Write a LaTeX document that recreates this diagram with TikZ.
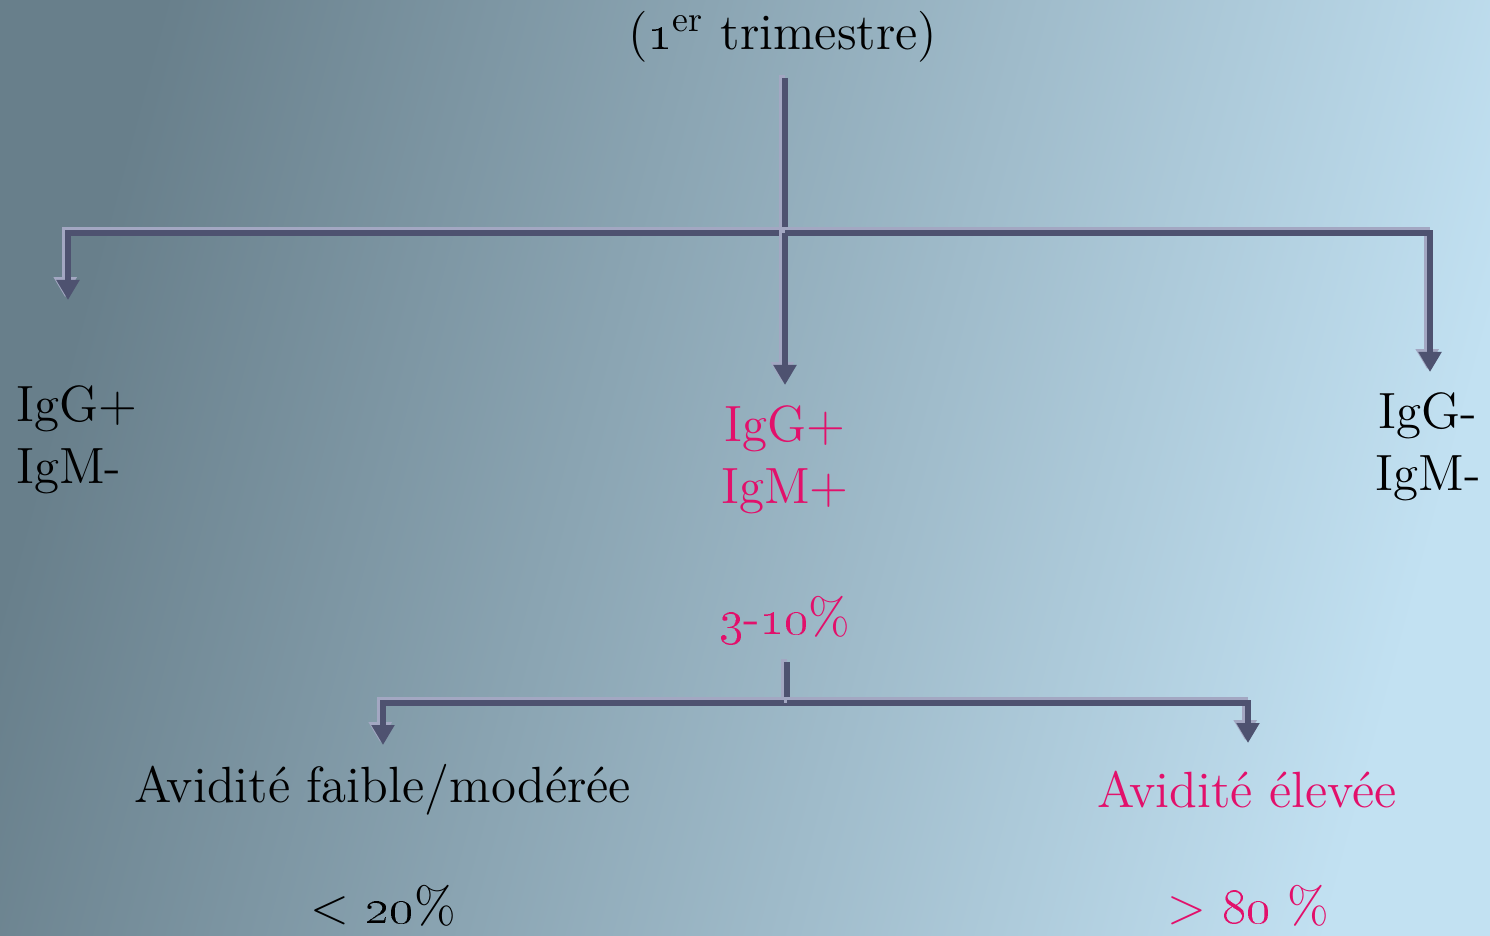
\documentclass[tikz,border=0pt]{standalone}
\usepackage{xcolor}
\definecolor{bgDark}{HTML}{687F8B}
\definecolor{bgLight}{HTML}{C2E1F2}
\definecolor{lineDark}{HTML}{4E5270}
\definecolor{lineLight}{HTML}{A3A7C2}
\definecolor{toxoPink}{HTML}{E2106B}
\usepackage{tikz}
\usetikzlibrary{arrows.meta, positioning}

\begin{document}
\begin{tikzpicture}[
		label/.style={
			inner sep=1pt,
			align=center,
			font=\fontsize{14.5}{17.5}\selectfont
		},
		result/.style={label, text=toxoPink},
		link/.style={
			draw=lineDark,
			line width=1.8pt,
			preaction={draw=lineLight, line width=1.8pt,
				transform canvas={shift={(-0.8pt,0.8pt)}}}
		},
		arrow/.style={link, -{Triangle[width=0.22cm, length=0.2cm]}}
		]
		
		% background
		\shade[left color=bgDark, right color=bgLight, shading angle=75]
			(0,0) rectangle (14.90,-9.36);
		\useasboundingbox (0,0) rectangle (14.90,-9.36);
		
		% first level
		\node[label] (trim) at (7.83,-0.37) {(\oldstylenums{1}\textsuperscript{er} trimestre)};
		\coordinate (top1) at (7.85,-0.78);
		\coordinate (hub) at (7.85,-2.33);
		\coordinate (endL) at (0.68,-3.00);
		\coordinate (endM) at (7.85,-3.85);
		\coordinate (endR) at (14.30,-3.72);
		
		\node[label, align=left, anchor=west] (past) at (0.12,-4.40) {IgG+\\IgM-};
		\node[result] (recent) at (7.85,-4.60) {IgG+\\IgM+};
		\node[label] (naive) at (14.28,-4.47) {IgG-\\IgM-};
		\node[result] (rate) at (7.85,-6.20) {\oldstylenums{3}-\oldstylenums{10}\%};
		
		\draw[link] (top1) -- (hub);
		\draw[arrow] (hub) -| (endL);
		\draw[arrow] (hub) -- (endM);
		\draw[arrow] (hub) -| (endR);
		
		% second level
		\coordinate (top2) at (7.87,-6.62);
		\coordinate (hub2) at (7.87,-7.03);
		\coordinate (endLow) at (3.83,-7.45);
		\coordinate (endHigh) at (12.48,-7.43);
		
		\node[label] (low) at (3.83,-7.90) {Avidité faible/modérée};
		\node[result] (high) at (12.47,-7.90) {Avidité élevée};
		\node[label] (lowval) at (3.83,-9.06) {< \oldstylenums{20}\%};
		\node[result] (highval) at (12.48,-9.06) {> \oldstylenums{80} \%};
		
		\draw[link] (top2) -- (hub2);
		\draw[arrow] (hub2) -| (endLow);
		\draw[arrow] (hub2) -| (endHigh);
		
	\end{tikzpicture}
\end{document}
